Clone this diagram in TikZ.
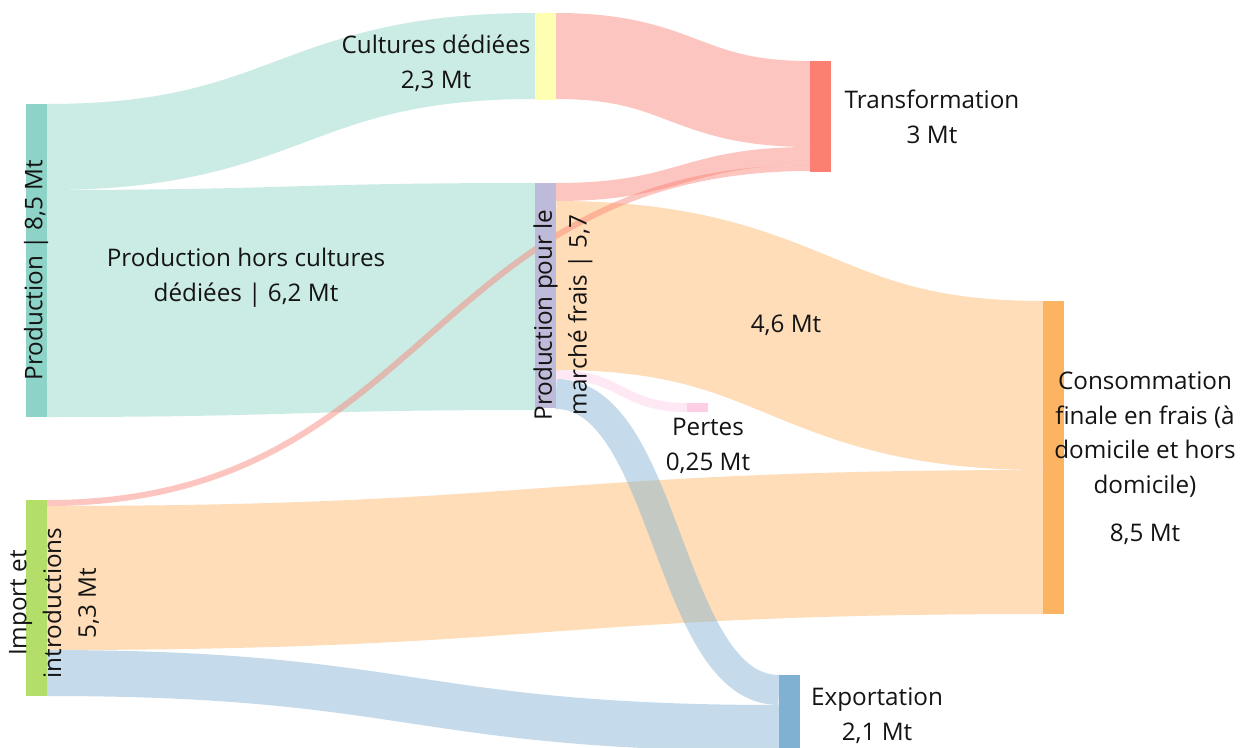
\documentclass[tikz,border=0pt]{standalone}
\usepackage{fontspec}
\setmainfont{Open Sans}
\usetikzlibrary{calc}

\definecolor{prodcol}{HTML}{8DD3C7}
\definecolor{cultcol}{HTML}{FFFFB3}
\definecolor{fraiscol}{HTML}{BEBADA}
\definecolor{transcol}{HTML}{FB8072}
\definecolor{conscol}{HTML}{FDB462}
\definecolor{expcol}{HTML}{80B1D3}
\definecolor{impcol}{HTML}{B3DE69}
\definecolor{pertcol}{HTML}{FCCDE5}

\tikzset{
    bar/.style={rectangle, inner sep=0, outer sep=0, minimum width=4.2mm, anchor=north west},
    flow/.style={draw=#1, draw opacity=0.45,
        to path={let \p1=(\tikztostart), \p2=(\tikztotarget) in
            .. controls ({(\x1+\x2)/2},\y1) and ({(\x1+\x2)/2},\y2) .. (\tikztotarget)}},
    thick px/.style={line width=#1*0.2mm},
    lbl/.style={align=center, inner sep=0, text=black!92}
}

\begin{document}
\begin{tikzpicture}[x=0.2mm, y=-0.2mm, font=\fontsize{13.8}{19.8}\selectfont]

\clip (0,0) rectangle (1250,747);
\fill[white] (0,0) rectangle (1250,747);

\node[bar, minimum height=62.6mm] (prod) at (26,104) {};
\node[bar, minimum height=39.2mm] (imp) at (26,500) {};
\node[bar, minimum height=17.4mm] (cult) at (535,13) {};
\node[bar, minimum height=45mm] (frais) at (535,183) {};
\node[bar, minimum height=22.2mm] (trans) at (810,61) {};
\node[bar, minimum height=62.6mm] (cons) at (1043,301) {};
\node[bar, minimum height=15.4mm] (exp) at (779,675) {};
\node[bar, minimum height=1.8mm] (pert) at (687,403) {};

\coordinate (prod-cult-a) at ($(prod.north east)+(0,43)$);
\coordinate (prod-cult-b) at ($(cult.north west)+(0,43)$);
\coordinate (prod-frais-a) at ($(prod.north east)+(0,199.5)$);
\coordinate (prod-frais-b) at ($(frais.north west)+(0,113.5)$);
\coordinate (cult-trans-a) at ($(cult.north east)+(0,43)$);
\coordinate (cult-trans-b) at ($(trans.north west)+(0,43)$);
\coordinate (frais-trans-a) at ($(frais.north east)+(0,9)$);
\coordinate (frais-trans-b) at ($(trans.north west)+(0,95)$);
\coordinate (imp-trans-a) at ($(imp.north east)+(0,3)$);
\coordinate (imp-trans-b) at ($(trans.north west)+(0,107)$);
\coordinate (frais-cons-a) at ($(frais.north east)+(0,102.5)$);
\coordinate (frais-cons-b) at ($(cons.north west)+(0,84.5)$);
\coordinate (frais-pert-a) at ($(frais.north east)+(0,191.5)$);
\coordinate (frais-pert-b) at (pert.west);
\coordinate (frais-exp-a) at ($(frais.north east)+(0,211)$);
\coordinate (frais-exp-b) at ($(exp.north west)+(0,15)$);
\coordinate (imp-cons-a) at ($(imp.north east)+(0,78)$);
\coordinate (imp-cons-b) at ($(cons.north west)+(0,241)$);
\coordinate (imp-exp-a) at ($(imp.north east)+(0,173)$);
\coordinate (imp-exp-b) at ($(exp.north west)+(0,53)$);

\draw[flow=prodcol, thick px=86] (prod-cult-a) to (prod-cult-b);
\draw[flow=prodcol, thick px=227] (prod-frais-a) to (prod-frais-b);
\draw[flow=transcol, thick px=86] (cult-trans-a) to (cult-trans-b);
\draw[flow=transcol, thick px=18] (frais-trans-a) to (frais-trans-b);
\draw[flow=conscol, thick px=169] (frais-cons-a) to (frais-cons-b);
\draw[flow=pertcol, thick px=9] (frais-pert-a) to (frais-pert-b);
\draw[flow=conscol, thick px=144] (imp-cons-a) to (imp-cons-b);
\draw[flow=expcol, thick px=46] (imp-exp-a) to (imp-exp-b);
\draw[flow=expcol, thick px=30] (frais-exp-a) to (frais-exp-b);
\draw[flow=transcol, thick px=6] (imp-trans-a) to (imp-trans-b);

\foreach \b/\c in {prod/prodcol, imp/impcol, cult/cultcol, frais/fraiscol, trans/transcol, cons/conscol, exp/expcol, pert/pertcol}{
    \fill[\c] (\b.north west) rectangle (\b.south east);
}

\node[lbl] (cult-l) at (436,63) {Cultures dédiées\\2,3 Mt};
\node[lbl] (hors-l) at (246,278) {Production hors cultures\\dédiées | 6,2 Mt};
\node[lbl, rotate=90] (prod-l) at (36,270) {Production | 8,5 Mt};
\node[lbl, rotate=90] (imp-l) at (54,603) {Import et\\introductions\\5,3 Mt};
\node[lbl, rotate=90] (frais-l) at (563,315) {Production pour le\\marché frais | 5,7};
\node[lbl] (trans-l) at (932,117) {Transformation\\3 Mt};
\node[lbl] (fc-l) at (786,325) {4,6 Mt};
\node[lbl] (pert-l) at (708,446) {Pertes\\0,25 Mt};
\node[lbl] (cons-l) at (1145,458) {Consommation\\finale en frais (à\\domicile et hors\\domicile)\\[2.6mm]8,5 Mt};
\node[lbl] (exp-l) at (877,716) {Exportation\\2,1 Mt};

\end{tikzpicture}
\end{document}
